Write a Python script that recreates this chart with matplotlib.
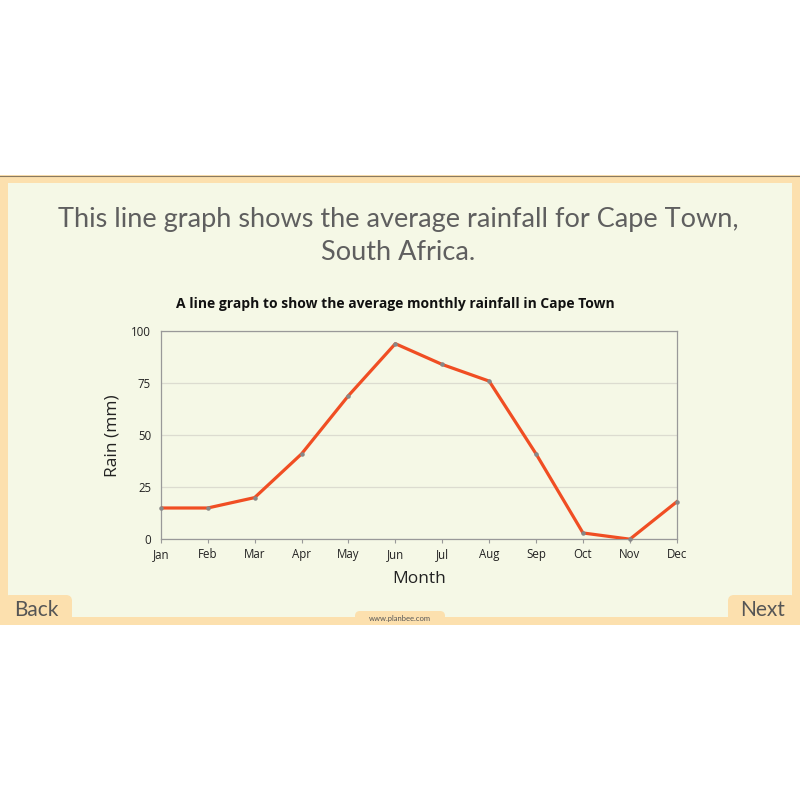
import matplotlib.pyplot as plt
from matplotlib.patches import Rectangle, FancyBboxPatch

months = ['Jan', 'Feb', 'Mar', 'Apr', 'May', 'Jun', 'Jul', 'Aug', 'Sep', 'Oct', 'Nov', 'Dec']
rainfall = [15, 15, 20, 41, 69, 94, 84, 76, 41, 3, 0, 18]
y_ticks = [0, 25, 50, 75, 100]

heading = 'This line graph shows the average rainfall for Cape Town,\nSouth Africa.'
chart_title = 'A line graph to show the average monthly rainfall in Cape Town'

plt.rcParams['font.family'] = ['Lato', 'DejaVu Sans']
chart_font = ['Open Sans', 'DejaVu Sans']

fig = plt.figure(figsize=(8, 8), dpi=100)
fig.patch.set_facecolor('white')

# background slide drawn in pixel coordinates
bg = fig.add_axes([0, 0, 1, 1])
bg.set_xlim(0, 800)
bg.set_ylim(800, 0)
bg.axis('off')
peach = '#FCE0AE'
cream = '#F5F8E6'
bg.add_patch(Rectangle((0, 175), 800, 450, facecolor=peach, edgecolor='none'))
bg.plot([0, 800], [175.5, 175.5], color='#8a7a60', lw=0.8)
bg.add_patch(Rectangle((8, 183), 784, 434, facecolor=cream, edgecolor='none'))
# back / next tabs and footer tab
bg.add_patch(FancyBboxPatch((4, 595), 68, 40, boxstyle='round,pad=0,rounding_size=6',
                            facecolor=peach, edgecolor='none'))
bg.add_patch(FancyBboxPatch((728, 595), 68, 40, boxstyle='round,pad=0,rounding_size=6',
                            facecolor=peach, edgecolor='none'))
bg.add_patch(FancyBboxPatch((355, 611), 90, 20, boxstyle='round,pad=0,rounding_size=5',
                            facecolor=peach, edgecolor='none'))
bg.add_patch(Rectangle((0, 625), 800, 175, facecolor='white', edgecolor='none'))
bg.text(36, 610, 'Back', ha='center', va='center', fontsize=15, color='#555555')
bg.text(763, 610, 'Next', ha='center', va='center', fontsize=15, color='#555555')
bg.text(400, 618, 'www.planbee.com', ha='center', va='center', fontsize=5.5, color='#555555')
bg.text(398, 236, heading, ha='center', va='center', fontsize=19.5, color='#5f5f5f',
        linespacing=1.45)

# chart
ax = fig.add_axes([0.201, 0.326, 0.645, 0.26])
ax.set_facecolor(cream)
x = range(len(months))
ax.plot(x, rainfall, color='#F04E23', lw=2.3, zorder=3)
ax.scatter(x, rainfall, s=5, color='#888888', zorder=4, clip_on=False)
ax.set_xlim(0, len(months) - 1)
ax.set_ylim(0, 100)
ax.set_xticks(list(x))
ax.set_xticklabels(months, fontsize=8.3, family=chart_font)
ax.set_yticks(y_ticks)
ax.set_yticklabels([str(t) for t in y_ticks], fontsize=8.3, family=chart_font)
ax.tick_params(axis='both', length=3, color='#999999', labelcolor='#222222')
ax.tick_params(axis='y', length=0, pad=7)
ax.grid(True, axis='y', color='#dcdcd0', lw=0.9)
ax.set_axisbelow(True)
for s in ax.spines.values():
    s.set_color('#999999')
    s.set_linewidth(0.9)
ax.set_xlabel('Month', fontsize=12.5, color='#222222', labelpad=7, family=chart_font)
ax.set_ylabel('Rain (mm)', fontsize=12.5, color='#222222', labelpad=8, family=chart_font)
ax.set_title(chart_title, fontsize=10, fontweight='bold', color='#111111', pad=17,
             family=chart_font, x=0.455)

plt.savefig('out.png', dpi=100)
